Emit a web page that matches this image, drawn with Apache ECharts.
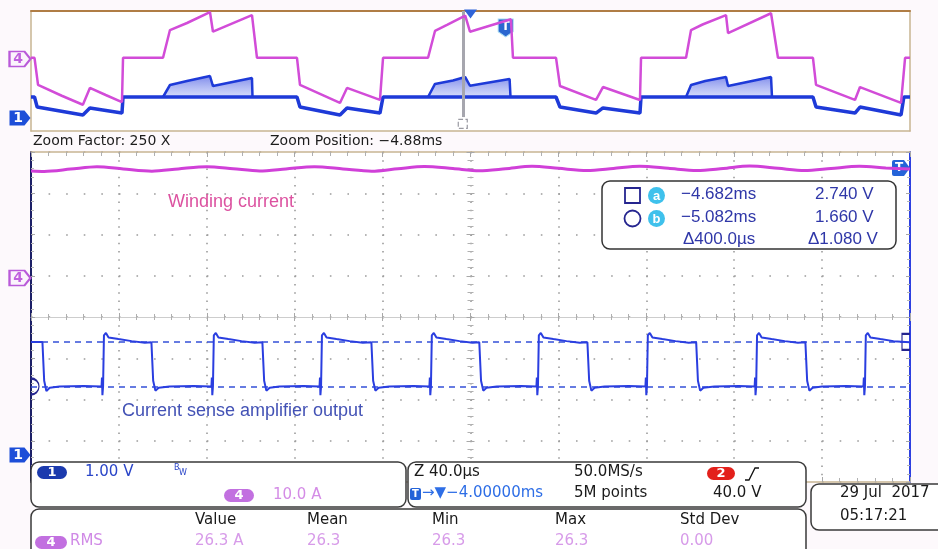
<!DOCTYPE html>
<html><head><meta charset="utf-8">
<script src="https://cdn.jsdelivr.net/npm/echarts@6/dist/echarts.min.js"></script>
<style>html,body{margin:0;padding:0;background:#fdf9fc;}#c{width:938px;height:549px;}</style>
</head><body><div id="c"></div>
<script>
// ---------- DATA ----------
// Main (zoomed) window: time in µs from window start (window = -5.080 ms .. -4.680 ms)
const mainCh1 = [
[0,2.74],[5.2,2.74],[6.0,1.8],[7.0,1.55],[8.5,1.63],[13,1.66],[24,1.67],[32.1,1.66],[32.3,1.88],[32.5,1.45],[32.8,1.66],
[33.2,2.9],[34.1,2.96],[35.3,2.85],[39.8,2.81],[45.8,2.76],[51.8,2.72],[54.8,2.73],
[55.6,1.8],[56.6,1.56],[58.1,1.63],[63,1.66],[74,1.67],[82.1,1.66],[82.3,1.88],[82.5,1.45],[82.8,1.66],
[83.2,2.9],[84.1,2.96],[85.3,2.85],[89.8,2.81],[95.8,2.76],[101.8,2.72],[105.3,2.73],
[106.1,1.8],[107.1,1.56],[108.6,1.63],[113,1.66],[124,1.67],[131.3,1.66],[131.5,1.88],[131.7,1.45],[132.0,1.66],
[132.4,2.9],[133.3,2.96],[134.5,2.85],[139,2.81],[145,2.76],[151,2.72],[154.9,2.73],
[155.7,1.8],[156.7,1.56],[158.2,1.63],[163,1.66],[174,1.67],[181.3,1.66],[181.5,1.88],[181.7,1.45],[182.0,1.66],
[182.4,2.9],[183.3,2.96],[184.5,2.85],[189,2.81],[195,2.76],[201,2.72],[204.0,2.73],
[204.8,1.8],[205.8,1.56],[207.3,1.63],[212,1.66],[223,1.67],[230.0,1.66],[230.2,1.88],[230.4,1.45],[230.7,1.66],
[231.1,2.9],[232.0,2.96],[233.2,2.85],[237.7,2.81],[243.7,2.76],[249.7,2.72],[253.2,2.73],
[254.0,1.8],[255.0,1.56],[256.5,1.63],[261,1.66],[272,1.67],[279.6,1.66],[279.8,1.88],[280.0,1.45],[280.3,1.66],
[280.7,2.9],[281.6,2.96],[282.8,2.85],[287.3,2.81],[293.3,2.76],[299.3,2.72],[302.7,2.73],
[303.5,1.8],[304.5,1.56],[306,1.63],[311,1.66],[322,1.67],[329.3,1.66],[329.5,1.88],[329.7,1.45],[330.0,1.66],
[330.4,2.9],[331.3,2.96],[332.5,2.85],[337,2.81],[343,2.76],[349,2.72],[352.4,2.73],
[353.2,1.8],[354.2,1.56],[355.7,1.63],[360,1.66],[371,1.67],[378.8,1.66],[379.0,1.88],[379.2,1.45],[379.5,1.66],
[379.9,2.9],[380.8,2.96],[382,2.85],[386.5,2.81],[392.5,2.76],[398,2.74],[400,2.73]
];
const mainCh4 = [
[0,25.95],[6,25.85],[18,26.4],[30,27.0],[42,26.45],[55,25.9],[67,26.45],[80,27.0],[92,26.5],[104,25.95],
[116,26.45],[129,27.0],[142,26.45],[155,25.9],[167,26.5],[179,27.05],[192,26.55],[204,26.0],[216,26.5],
[228,27.1],[240,26.6],[253,26.05],[265,26.55],[277,27.1],[290,26.6],[303,26.05],[315,26.55],[327,27.15],
[340,26.6],[352,26.05],[364,26.55],[377,27.1],[389,26.7],[400,26.4]
];
const cursorVolts = [2.74, 1.66];
const cursorTimes = ['\u22124.682ms', '\u22125.082ms'];
const cursorDelta = ['\u0394400.0\u00b5s', '\u03941.080 V'];

// Overview: time in ms relative to trigger
const ovCh4 = [
[-54.0,0.8],[-53.6,0.8],[-53.2,-17.3],[-50.5,-24.5],[-48.1,-30.5],[-47.3,-19.3],[-45.5,-24],[-43.65,-28.7],[-43.53,0.8],
[-38.98,0.8],[-38.19,19.3],[-36.25,24],[-33.64,31.3],[-33.3,18.2],[-28.86,29.3],[-28.29,0.8],
[-23.74,0.8],[-23.4,-17.3],[-18.85,-29.3],[-18.05,-19.3],[-14.3,-27.3],[-13.95,0.8],
[-8.83,0.8],[-8.04,18.7],[-6.67,22.7],[-4.6,28.9],[-4.4,29.5],[-4.06,18.2],[0.6,26.5],[0.83,0.8],
[5.73,0.8],[6.18,-18],[10.28,-27.3],[11.07,-18.7],[15.28,-27.3],[15.4,0.8],
[20.52,0.8],[21.09,19.3],[22.4,23],[25.07,29.3],[25.3,17.3],[30.19,30.5],[30.98,0.8],
[34.96,0.8],[35.31,-17.3],[39.74,-27.3],[40.31,-18.7],[44.98,-29.3],[45.44,0.8],[46.0,0.8]
];
const ovCh1 = [
[-54,1.4],[-53.6,1.4],[-53.3,0.73],[-48.1,0.2],[-47.3,0.67],[-43.65,0.33],[-43.53,1.4],
[-23.74,1.4],[-23.4,0.73],[-18.85,0.2],[-18.05,0.67],[-14.3,0.33],[-13.95,1.4],
[5.73,1.4],[6.18,0.73],[10.28,0.33],[11.07,0.67],[15.28,0.33],[15.4,1.4],
[34.96,1.4],[35.31,0.73],[39.74,0.33],[40.31,0.73],[44.98,0.2],[45.3,1.4],[46,1.4]
];
const ovBand = [
[-38.98,1.4],[-38.19,2.2],[-36.25,2.47],[-33.64,2.8],[-33.3,2.13],[-28.86,2.67],[-28.8,1.4],[-28.5,null],
[-8.83,1.4],[-8.04,2.27],[-6.0,2.5],[-4.6,2.73],[-4.4,2.8],[-4.06,2.15],[0.45,2.6],[0.55,1.4],[0.8,null],
[20.52,1.4],[21.09,2.2],[22.7,2.47],[25.07,2.73],[25.3,2.13],[30.19,2.73],[30.3,1.4]
];
const zoomPos = -4.88;   // ms
const trigPos = 0;       // ms
const expandPos = -4.0;  // ms

// ---------- CHART ----------
const chart = echarts.init(document.getElementById('c'), null, {renderer:'canvas'});
const UI = '"DejaVu Sans"';
const AR = '"Liberation Sans", Arial';
const Z = 100;
function txt(x,y,text,size,color,fam,extra){
  return Object.assign({type:'text', x:x, y:y, z:Z, style:Object.assign({text:text, font: size+'px '+(fam||UI), fill:color, verticalAlign:'top', align:'left'}, extra||{})});
}
function badge(x,y,w,h,color,label,size){
  return [
    {type:'rect', z:Z, shape:{x:x,y:y,width:w,height:h,r:h/2}, style:{fill:color}},
    {type:'text', z:Z+1, x:x+w/2, y:y+h/2+0.5, style:{text:label, font:'bold '+(size||12)+'px '+UI, fill:'#fff', align:'center', verticalAlign:'middle'}}
  ];
}
function panel(x,y,w,h){
  return {type:'rect', z:Z-1, shape:{x:x,y:y,width:w,height:h,r:8}, style:{fill:'#ffffff', stroke:'#3a3a3a', lineWidth:1.5}};
}
const pentagon = 'path://M0,0 L15,0 L21,7.5 L15,15 L0,15 Z';
const noAxis = {show:false};
const tan = '#c7b592';
const dotCol = '#9c9c9c';

const graphics = [].concat(
  [txt(33,134,'Zoom Factor: 250 X',14,'#1c1c1c'), txt(270,134,'Zoom Position: \u22124.88ms',14,'#1c1c1c')],
  [txt(168,193,'Winding current',18,'#dc52a0',AR), txt(122,402,'Current sense amplifier output',18,'#4352b5',AR)],
  // cursor readout
  [{type:'rect', z:Z-1, shape:{x:602,y:181,width:294,height:68,r:8}, style:{fill:'#fff', stroke:'#333', lineWidth:1.5}},
   {type:'rect', z:Z, shape:{x:625,y:188,width:15,height:15}, style:{fill:'none', stroke:'#25258f', lineWidth:1.8}},
   {type:'circle', z:Z, shape:{cx:656.5,cy:195.5,r:8.5}, style:{fill:'#3fc1ec'}},
   {type:'text', z:Z+1, x:656.5, y:196, style:{text:'a', font:'bold 13px '+AR, fill:'#fff', align:'center', verticalAlign:'middle'}},
   {type:'circle', z:Z, shape:{cx:632.5,cy:218.5,r:8}, style:{fill:'none', stroke:'#25258f', lineWidth:1.8}},
   {type:'circle', z:Z, shape:{cx:656.5,cy:218.5,r:8.5}, style:{fill:'#3fc1ec'}},
   {type:'text', z:Z+1, x:656.5, y:219, style:{text:'b', font:'bold 13px '+AR, fill:'#fff', align:'center', verticalAlign:'middle'}},
   txt(681,186,cursorTimes[0],17,'#2f37a8',AR), txt(815,186,cursorVolts[0].toFixed(3)+' V',17,'#2f37a8',AR),
   txt(681,209,cursorTimes[1],17,'#2f37a8',AR), txt(815,209,cursorVolts[1].toFixed(3)+' V',17,'#2f37a8',AR),
   txt(683,231,cursorDelta[0],17,'#2f37a8',AR), txt(808,231,cursorDelta[1],17,'#2f37a8',AR)],
  // bottom panels
  [panel(31,462,375,45), panel(408,462,398,45), panel(31,509,775,70), panel(811,484,140,46)],
  badge(37,466,30,13,'#1b3aae','1',13),
  [txt(85,465,'1.00 V',15,'#2a45c8'), txt(174,464,'B',8,'#2a45c8'), txt(179,469,'W',8,'#2a45c8')],
  badge(224,489,30,13,'#c270e0','4',13),
  [txt(273,488,'10.0 A',15,'#d48ce6')],
  [txt(414,465,'Z 40.0\u00b5s',15,'#1a1a1a'), txt(574,465,'50.0MS/s',15,'#1a1a1a')],
  badge(707,467,28,13,'#e3201b','2',13),
  [{type:'polyline', z:Z, shape:{points:[[745,480],[749,480],[755,468],[759,468]]}, style:{stroke:'#111', lineWidth:1.3, fill:'none'}}],
  [{type:'rect', z:Z, shape:{x:410,y:488,width:11,height:12,r:2}, style:{fill:'#2463d8'}},
   {type:'text', z:Z+1, x:415.5, y:494.5, style:{text:'T', font:'bold 10px '+UI, fill:'#fff', align:'center', verticalAlign:'middle'}},
   txt(422,486,'\u2192\u25bc\u22124.00000ms',15,'#2e6ee6'), txt(574,486,'5M points',15,'#1a1a1a'), txt(713,486,'40.0 V',15,'#1a1a1a')],
  badge(35,536,32,13,'#c270e0','4',13),
  [txt(70,534,'RMS',15,'#d08ae6'),
   txt(195,513,'Value',15,'#1a1a1a'), txt(307,513,'Mean',15,'#1a1a1a'), txt(432,513,'Min',15,'#1a1a1a'), txt(555,513,'Max',15,'#1a1a1a'), txt(680,513,'Std Dev',15,'#1a1a1a'),
   txt(195,534,'26.3 A',15,'#d79be9'), txt(307,534,'26.3',15,'#d79be9'), txt(432,534,'26.3',15,'#d79be9'), txt(555,534,'26.3',15,'#d79be9'), txt(680,534,'0.00',15,'#d79be9'),
   txt(840,486,'29 Jul  2017',15,'#1a1a1a'), txt(840,509,'05:17:21',15,'#1a1a1a')]
);

const option = {
  animation:false,
  backgroundColor:'#fdf9fc',
  grid:[
    {left:31, top:11, width:879, height:120, show:true, backgroundColor:'#ffffff', borderWidth:0},
    {left:31, top:152, width:879, height:330, show:true, backgroundColor:'#ffffff', borderWidth:0}
  ],
  xAxis:[
    {gridIndex:0, type:'value', min:-54, max:46, position:'top', axisLine:{onZero:false, lineStyle:{color:'#b07d45', width:2}}, axisTick:noAxis, axisLabel:noAxis, splitLine:noAxis},
    {gridIndex:0, type:'value', min:-54, max:46, position:'bottom', axisLine:{onZero:false, lineStyle:{color:tan, width:1.5}}, axisTick:noAxis, axisLabel:noAxis, splitLine:noAxis},
    {gridIndex:1, type:'value', min:0, max:400, interval:40, position:'top',
      axisLine:{onZero:false, lineStyle:{color:tan, width:1.5}}, axisTick:{inside:true, length:5, lineStyle:{color:'#a8a8a8'}},
      minorTick:{show:true, splitNumber:5, length:4, lineStyle:{color:'#b0b0b0'}}, axisLabel:noAxis,
      splitLine:{show:true, lineStyle:{color:dotCol, width:1.6, type:[1.6,6.65]}}},
    {gridIndex:1, type:'value', min:0, max:400, interval:40, position:'bottom',
      axisLine:{onZero:false, lineStyle:{color:tan, width:1.5}}, axisTick:{inside:true, length:5, lineStyle:{color:'#a8a8a8'}},
      minorTick:{show:true, splitNumber:5, length:4, lineStyle:{color:'#b0b0b0'}}, axisLabel:noAxis, splitLine:noAxis},
    {gridIndex:1, type:'value', min:0, max:400, interval:40, position:'bottom', offset:-165,
      axisLine:{onZero:false, lineStyle:{color:'#cdcdcd', width:1}}, axisTick:{inside:true, length:4, lineStyle:{color:'#a8a8a8'}},
      minorTick:{show:true, splitNumber:5, length:3, lineStyle:{color:'#b0b0b0'}}, axisLabel:noAxis, splitLine:noAxis},
    {gridIndex:1, type:'value', min:0, max:400, interval:40, position:'bottom', offset:-165,
      axisLine:{show:false, onZero:false}, axisTick:{inside:false, length:4, lineStyle:{color:'#a8a8a8'}},
      minorTick:{show:true, splitNumber:5, length:3, lineStyle:{color:'#b0b0b0'}}, axisLabel:noAxis, splitLine:noAxis}
  ],
  yAxis:[
    {gridIndex:0, type:'value', min:-0.8667, max:7.1333, show:false},
    {gridIndex:0, type:'value', min:-48, max:32, show:false},
    {gridIndex:0, type:'value', min:0, max:1, position:'left', axisLine:{show:true, onZero:false, lineStyle:{color:tan, width:1.5}}, axisTick:noAxis, axisLabel:noAxis, splitLine:noAxis},
    {gridIndex:0, type:'value', min:0, max:1, position:'right', axisLine:{show:true, onZero:false, lineStyle:{color:tan, width:1.5}}, axisTick:noAxis, axisLabel:noAxis, splitLine:noAxis},
    {gridIndex:1, type:'value', min:-4, max:4, interval:1, position:'left',
      axisLine:{show:true, onZero:false, lineStyle:{color:'#1c1f66', width:2}}, axisTick:{show:true, inside:true, length:4, lineStyle:{color:'#a8a8a8'}},
      minorTick:{show:true, splitNumber:5, length:3, lineStyle:{color:'#b8b8b8'}}, axisLabel:noAxis,
      splitLine:{show:true, lineStyle:{color:dotCol, width:1.6, type:[1.6,15.98]}}},
    {gridIndex:1, type:'value', min:-4, max:4, interval:1, position:'right',
      axisLine:{show:true, onZero:false, lineStyle:{color:'#2d40e0', width:2}}, axisTick:{show:true, inside:true, length:4, lineStyle:{color:'#a8a8a8'}},
      minorTick:{show:true, splitNumber:5, length:3, lineStyle:{color:'#b8b8b8'}}, axisLabel:noAxis, splitLine:noAxis},
    {gridIndex:1, type:'value', min:-4, max:4, interval:1, position:'left', offset:-439.5,
      axisLine:{show:false, onZero:false}, axisTick:{show:true, inside:true, length:4, lineStyle:{color:'#a8a8a8'}},
      minorTick:{show:true, splitNumber:5, length:3, lineStyle:{color:'#b0b0b0'}}, axisLabel:noAxis, splitLine:noAxis},
    {gridIndex:1, type:'value', min:-0.655, max:7.345, show:false},
    {gridIndex:1, type:'value', min:-49.45, max:30.55, show:false},
    {gridIndex:1, type:'value', min:-4, max:4, interval:1, position:'left', offset:-439.5,
      axisLine:{show:false, onZero:false}, axisTick:{show:true, inside:false, length:4, lineStyle:{color:'#a8a8a8'}},
      minorTick:{show:true, splitNumber:5, length:3, lineStyle:{color:'#b0b0b0'}}, axisLabel:noAxis, splitLine:noAxis}
  ],
  series:[
    {type:'line', name:'ovBand', xAxisIndex:0, yAxisIndex:0, data:ovBand, symbol:'none', connectNulls:false, z:3,
      lineStyle:{color:'#1e3ad8', width:2.5},
      areaStyle:{origin:1.4, color:new echarts.graphic.LinearGradient(0,0,0,1,[{offset:0,color:'rgba(40,60,220,0.85)'},{offset:1,color:'rgba(120,140,240,0.45)'}])}},
    {type:'line', name:'ovCh1', xAxisIndex:0, yAxisIndex:0, data:ovCh1, symbol:'none', z:4,
      lineStyle:{color:'#1e3ad8', width:3.5},
      markPoint:{silent:true, data:[
        {coord:[-54,0], symbol:pentagon, symbolSize:[21,15], symbolOffset:[-11,0], itemStyle:{color:'#1d4ed8'},
         label:{show:true, formatter:'1', color:'#fff', fontSize:14, fontWeight:'bold', fontFamily:'DejaVu Sans', offset:[-2,0]}}
      ]}},
    {type:'line', name:'ovCh4', xAxisIndex:0, yAxisIndex:1, data:ovCh4, symbol:'none', z:5,
      lineStyle:{color:'#d24cd8', width:2.5},
      markLine:{silent:true, symbol:'none', label:{show:false}, lineStyle:{color:'#a6a6ae', width:3, type:'solid'},
        data:[[{coord:[zoomPos,32]},{coord:[zoomPos,-38.7]}]]},
      markPoint:{silent:true, data:[
        {coord:[-54,0], symbol:pentagon, symbolSize:[21,15], symbolOffset:[-11,0], itemStyle:{color:'#fbf4fc', borderColor:'#b95ad9', borderWidth:2},
         label:{show:true, formatter:'4', color:'#c062de', fontSize:14, fontWeight:'bold', fontFamily:'DejaVu Sans', offset:[-2,0]}},
        {coord:[zoomPos,-43.3], symbol:'rect', symbolSize:9, itemStyle:{color:'rgba(0,0,0,0)', borderColor:'#9a9aa2', borderWidth:1.2, borderType:'dashed'}, label:{show:false}},
        {coord:[expandPos,32], symbol:'triangle', symbolRotate:180, symbolSize:[13,9], symbolOffset:[0,3], itemStyle:{color:'#2f64d8'}, label:{show:false}},
        {coord:[trigPos,20.7], symbol:'path://M0,0 L14,0 L14,12 L7,17 L0,12 Z', symbolSize:[15,18], itemStyle:{color:'#2a67d0', borderColor:'#a8dcf2', borderWidth:1},
         label:{show:true, formatter:'T', color:'#fff', fontSize:12, fontWeight:'bold', fontFamily:'DejaVu Sans', offset:[0,-1]}}
      ]}},
    {type:'line', name:'Winding current', xAxisIndex:2, yAxisIndex:8, data:mainCh4, symbol:'none', smooth:0.3, z:5,
      lineStyle:{color:'#d040d8', width:3},
      markPoint:{silent:true, data:[
        {coord:[0,0], symbol:pentagon, symbolSize:[21,15], symbolOffset:[-11,0], itemStyle:{color:'#fbf4fc', borderColor:'#b95ad9', borderWidth:2},
         label:{show:true, formatter:'4', color:'#c062de', fontSize:14, fontWeight:'bold', fontFamily:'DejaVu Sans', offset:[-2,0]}},
        {coord:[400,26.7], symbol:'path://M2,0 L12,0 L18,8 L12,16 L2,16 Q0,16 0,14 L0,2 Q0,0 2,0 Z', symbolSize:[18,16], symbolOffset:[-9,0],
         itemStyle:{color:'#2463d8'}, label:{show:true, formatter:'T', color:'#fff', fontSize:12, fontWeight:'bold', fontFamily:'DejaVu Sans', offset:[-2,0]}}
      ]}},
    {type:'line', name:'Current sense amplifier output', xAxisIndex:2, yAxisIndex:7, data:mainCh1, symbol:'none', z:6,
      lineStyle:{color:'#2a3ee0', width:2},
      markLine:{silent:true, symbol:'none', label:{show:false}, lineStyle:{color:'#3550d8', width:1.5, type:[6,5]},
        data:[{yAxis:cursorVolts[0]},{yAxis:cursorVolts[1]}]},
      markPoint:{silent:true, data:[
        {coord:[0,0], symbol:pentagon, symbolSize:[21,15], symbolOffset:[-11,0], itemStyle:{color:'#1d4ed8'},
         label:{show:true, formatter:'1', color:'#fff', fontSize:14, fontWeight:'bold', fontFamily:'DejaVu Sans', offset:[-2,0]}},
        {coord:[400,cursorVolts[0]], symbol:'path://M8,0 L0,0 L0,16 L8,16', symbolSize:[8,16], symbolOffset:[-4,0],
         itemStyle:{color:'rgba(0,0,0,0)', borderColor:'#25258f', borderWidth:1.6}, label:{show:false}},
        {coord:[0,cursorVolts[1]], symbol:'path://M0,0 A8,8 0 0 1 0,16', symbolSize:[8,16], symbolOffset:[4,0],
         itemStyle:{color:'rgba(0,0,0,0)', borderColor:'#25258f', borderWidth:1.6}, label:{show:false}}
      ]}}
  ],
  graphic:graphics
};
chart.setOption(option);
</script></body></html>
